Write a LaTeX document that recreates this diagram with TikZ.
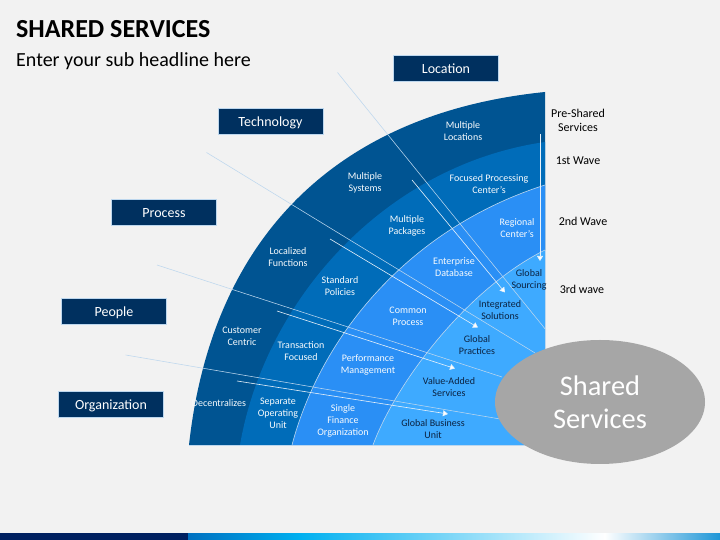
\documentclass[tikz,border=0pt]{standalone}
\usepackage{fontspec}
\setmainfont{Carlito}
\usetikzlibrary{arrows.meta,shapes.geometric}
\definecolor{bgc}{HTML}{F2F2F2}
\definecolor{navy}{HTML}{00305F}
\definecolor{ringa}{HTML}{005492}
\definecolor{ringb}{HTML}{006CB9}
\definecolor{ringc}{HTML}{2A8FF5}
\definecolor{ringd}{HTML}{3EAAFF}
\definecolor{pale}{HTML}{BDD7EE}
\definecolor{darktxt}{HTML}{0B2240}
\definecolor{greyell}{HTML}{A6A6A6}
\definecolor{barnavy}{HTML}{002060}
\definecolor{barblue}{HTML}{0070C0}
\definecolor{barcyan}{HTML}{00B0F0}
\definecolor{barend}{HTML}{1E96D7}
\tikzset{
  x=1pt,y=1pt,
  catbox/.style={draw=pale,line width=0.6pt,fill=navy,text=white,minimum width=105pt,minimum height=26pt,inner sep=0pt,text height=12pt,text depth=1.4pt,font=\fontsize{14}{16}\selectfont},
  ringw/.style={text=white!90!pale,align=center,inner sep=0pt,font=\fontsize{10}{12}\selectfont},
  ringk/.style={text=darktxt,align=center,inner sep=0pt,font=\fontsize{10}{12}\selectfont},
  wave/.style={text=black,align=center,inner sep=0pt,font=\fontsize{12}{14.3}\selectfont},
  thinline/.style={draw=pale,line width=0.55pt},
  arrowline/.style={draw=white!65!pale,line width=0.6pt,-{Triangle[length=5pt,width=6pt,fill=white]}},
  ringedge/.style={draw=pale,line width=0.6pt}
}
\begin{document}
\begin{tikzpicture}
\useasboundingbox (0,0) rectangle (720,540);
\fill[bgc] (0,0) rectangle (720,540);
% bottom bar
\fill[white,opacity=.7] (0,6.5) rectangle (390,7.3);
\fill[white,opacity=.7] (695,6.5) rectangle (720,7.3);
\fill[barnavy] (0,0) rectangle (188,6.5);
\shade[left color=barblue,right color=barcyan] (188,0) rectangle (300,6.5);
\shade[left color=barcyan,right color=white] (299.5,0) rectangle (605,6.5);
\shade[left color=white,right color=barend] (604.5,0) rectangle (720,6.5);
% rings
\fill[ringa] (189,95) .. controls (212,304) and (338,427) .. (545,448) -- (545,95) -- cycle;
\fill[ringb] (240,95) .. controls (265,240) and (385,375) .. (545,398) -- (545,95) -- cycle;
\fill[ringc] (292,95) .. controls (321,205) and (410,312) .. (545,355) -- (545,95) -- cycle;
\fill[ringd] (373,95) .. controls (395,155) and (465,250) .. (545,290) -- (545,95) -- cycle;
\draw[ringedge] (292,95) .. controls (321,205) and (410,312) .. (545,355);
\draw[ringedge] (373,95) .. controls (395,155) and (465,250) .. (545,290);
\draw[ringedge] (189,95) -- (545,95) -- (545,290);
% anchors of the connectors
\coordinate (la) at (337.5,467.5); \coordinate (lb) at (546,210);
\coordinate (ta) at (206.5,387.5); \coordinate (tb) at (535,187);
\coordinate (pa) at (157,275);     \coordinate (pb) at (502,163);
\coordinate (oa) at (125.7,185);   \coordinate (ob) at (500,121);
\coordinate (wa) at (540,406);     \coordinate (wb) at (540,279);
\coordinate (xa) at (412,360);     \coordinate (xb) at (505,247.5);
\coordinate (ya) at (330,301);     \coordinate (yb) at (478,212.5);
\coordinate (za) at (277,229);     \coordinate (zb) at (455,171.5);
\coordinate (va) at (237,159);     \coordinate (vb) at (448,126);
\draw[thinline] (la) -- (lb);
\draw[thinline] (ta) -- (tb);
\draw[thinline] (pa) -- (pb);
\draw[thinline] (oa) -- (ob);
\draw[arrowline] (wa) -- (wb);
\draw[arrowline] (xa) -- (xb);
\draw[arrowline] (ya) -- (yb);
\draw[arrowline] (za) -- (zb);
\draw[arrowline] (va) -- (vb);
% ellipse
\node[ellipse,fill=greyell,minimum width=210pt,minimum height=124pt,inner sep=0pt,text=white,align=center,font=\fontsize{28.4}{33.5}\selectfont] (ss) at (600,138) {Shared\\Services};
% title
\node[anchor=west,inner sep=0pt,font=\fontsize{26}{28}\selectfont\bfseries] (title) at (16,511) {SHARED SERVICES};
\node[anchor=west,inner sep=0pt,font=\fontsize{20}{24}\selectfont] (sub) at (16,478.5) {Enter your sub headline here};
% category boxes
\node[catbox] (loc) at (446,472) {Location};
\node[catbox] (tech) at (270.5,418.5) {Technology};
\node[catbox] (proc) at (164,328) {Process};
\node[catbox] (peop) at (114,228.5) {People};
\node[catbox] (org) at (111,135.5) {Organization};
% wave labels
\node[wave] (w0) at (578,419.5) {Pre-Shared\\Services};
\node[wave] (w1) at (578,379.5) {1st Wave};
\node[wave] (w2) at (583,318.5) {2nd Wave};
\node[wave] (w3) at (582,250.5) {3rd wave};
% ring labels
\begin{scope}[yshift=-0.5pt]
\node[ringw] (r1) at (463,409) {Multiple\\Locations};
\node[ringw] (r2) at (365,358) {Multiple\\Systems};
\node[ringw] (r3) at (489,356) {Focused Processing\\Center's};
\node[ringw] (r4) at (407,315) {Multiple\\Packages};
\node[ringw] (r5) at (517,312) {Regional\\Center's};
\node[ringw] (r6) at (288,283) {Localized\\Functions};
\node[ringw] (r7) at (340,254) {Standard\\Policies};
\node[ringw] (r8) at (454,273) {Enterprise\\Database};
\node[ringk] (r9) at (529,261) {Global\\Sourcing};
\node[ringk] (r10) at (500,230) {Integrated\\Solutions};
\node[ringw] (r11) at (408,224) {Common\\Process};
\node[ringw] (r12) at (242,204) {Customer\\Centric};
\node[ringw] (r13) at (301,189) {Transaction\\Focused};
\node[ringk] (r14) at (477,195) {Global\\Practices};
\node[ringw] (r15) at (368,176) {Performance\\Management};
\node[ringk] (r16) at (449,153) {Value-Added\\Services};
\node[ringw] (r17) at (219,137) {Decentralizes};
\node[ringw] (r18) at (278,127) {Separate\\Operating\\Unit};
\node[ringw] (r19) at (343,120) {Single\\Finance\\Organization};
\node[ringk] (r20) at (433,111) {Global Business\\Unit};
\end{scope}
\end{tikzpicture}
\end{document}
